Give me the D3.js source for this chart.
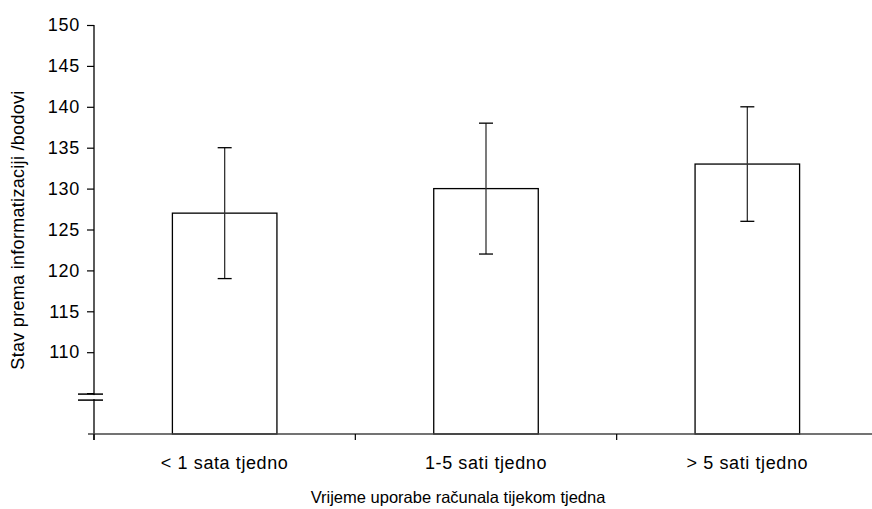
<!DOCTYPE html>
<html>
<head>
<meta charset="utf-8">
<script src="https://cdn.jsdelivr.net/npm/d3@7"></script>
<style>
  body { margin: 0; background: #fff; }
  text { font-family: "Liberation Sans", Arial, sans-serif; fill: #000; }
</style>
</head>
<body>
<script>

  // data
  var categories = ["< 1 sata tjedno", "1-5 sati tjedno", "> 5 sati tjedno"];
  var means = [127, 130, 133];
  var lows = [119, 122, 126];
  var highs = [135, 138, 140];
  var yTicks = [110, 115, 120, 125, 130, 135, 140, 145, 150];
  var yBreak = 105;

  var width = 872, height = 509;
  var mLeft = 94, mRight = 878, mTop = 25, mBottom = 434;

  var svg = d3.select("body").append("svg")
      .attr("width", width)
      .attr("height", height);

  var x = d3.scaleBand()
      .domain(categories)
      .range([mLeft, mRight])
      .paddingInner(0)
      .paddingOuter(0);

  var y = d3.scaleLinear()
      .domain([100, 150])
      .range([mBottom, mTop]);

  var barW = x.bandwidth() * 0.4;
  var cx = function(i) { return x(categories[i]) + x.bandwidth() / 2; };

  // bars
  svg.selectAll("rect.bar")
    .data(means)
    .enter().append("rect")
      .attr("class", "bar")
      .attr("x", function(d, i) { return cx(i) - barW / 2; })
      .attr("y", function(d) { return y(d); })
      .attr("width", barW)
      .attr("height", function(d) { return y(100) - y(d); })
      .attr("fill", "#fff")
      .attr("stroke", "#000")
      .attr("stroke-width", 1.3);

  // error bars
  svg.selectAll("line.err")
    .data(means)
    .enter().append("line")
      .attr("class", "err")
      .attr("x1", function(d, i) { return cx(i); })
      .attr("x2", function(d, i) { return cx(i); })
      .attr("y1", function(d, i) { return y(lows[i]); })
      .attr("y2", function(d, i) { return y(highs[i]); })
      .attr("stroke", "#333")
      .attr("stroke-width", 1.3);

  [lows, highs].forEach(function(arr) {
    svg.selectAll(null)
      .data(arr)
      .enter().append("line")
        .attr("x1", function(d, i) { return cx(i) - 7; })
        .attr("x2", function(d, i) { return cx(i) + 7; })
        .attr("y1", function(d) { return y(d); })
        .attr("y2", function(d) { return y(d); })
        .attr("stroke", "#000")
        .attr("stroke-width", 1.3);
  });

  // y axis
  var yAxis = svg.append("g")
      .attr("transform", "translate(" + mLeft + ",0)")
      .call(d3.axisLeft(y).tickValues(yTicks.concat([yBreak])).tickSizeOuter(0).tickSize(7).tickPadding(7)
        .tickFormat(function(d) { return d === yBreak ? "" : d; }));
  yAxis.select(".domain").attr("stroke", "#000").attr("stroke-width", 1.3)
      .attr("d", "M0," + mTop + "V" + (mBottom + 6));
  yAxis.selectAll(".tick line").attr("stroke", "#000").attr("stroke-width", 1.2);
  yAxis.selectAll("text")
      .style("font-size", "18px")
      .style("letter-spacing", "0.7px")
      .style("font-family", "Liberation Sans, Arial, sans-serif")
      .attr("fill", "#000");

  // axis break marks
  svg.append("rect")
    .attr("x", mLeft - 16).attr("y", y(yBreak) + 2)
    .attr("width", 25).attr("height", 4)
    .attr("fill", "#fff");
  [y(yBreak) + 1, y(yBreak) + 7].forEach(function(yy) {
    svg.append("line")
      .attr("x1", mLeft - 16).attr("x2", mLeft + 9)
      .attr("y1", yy).attr("y2", yy)
      .attr("stroke", "#000").attr("stroke-width", 1.5);
  });

  // x axis
  var boundaries = categories.map(function(c) { return x(c); }).concat([mRight]);
  svg.append("line")
    .attr("x1", mLeft - 6).attr("x2", mRight)
    .attr("y1", mBottom).attr("y2", mBottom)
    .attr("stroke", "#444").attr("stroke-width", 1.3);
  svg.selectAll("line.xt")
    .data(boundaries)
    .enter().append("line")
      .attr("class", "xt")
      .attr("x1", function(d) { return d; })
      .attr("x2", function(d) { return d; })
      .attr("y1", mBottom).attr("y2", mBottom + 6)
      .attr("stroke", "#000").attr("stroke-width", 1.2);

  svg.selectAll("text.cat")
    .data(categories)
    .enter().append("text")
      .attr("class", "cat")
      .attr("x", function(d) { return x(d) + x.bandwidth() / 2; })
      .attr("y", mBottom + 35)
      .attr("text-anchor", "middle")
      .style("font-size", "18px")
      .style("letter-spacing", "0.6px")
      .text(function(d) { return d; });

  // axis titles
  svg.append("text")
    .attr("x", 458)
    .attr("y", 503)
    .attr("text-anchor", "middle")
    .style("font-size", "16.5px")
    .text("Vrijeme uporabe računala tijekom tjedna");

  svg.append("text")
    .attr("transform", "translate(24,230) rotate(-90)")
    .attr("text-anchor", "middle")
    .style("font-size", "18px")
    .style("letter-spacing", "0.3px")
    .text("Stav prema informatizaciji /bodovi");

</script>
</body>
</html>
